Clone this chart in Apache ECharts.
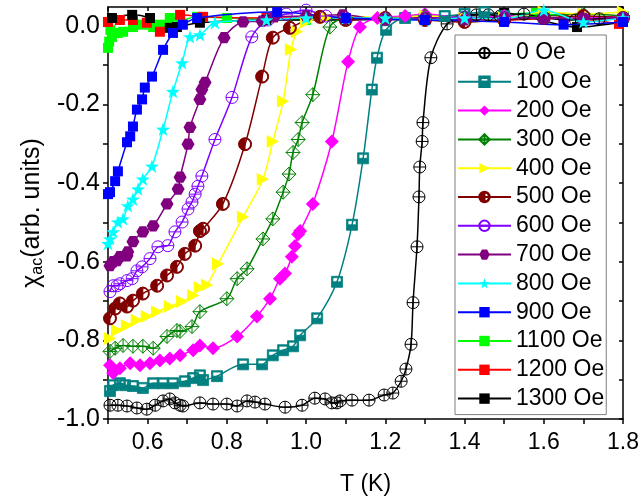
<!DOCTYPE html>
<html><head><meta charset="utf-8">
<script src="https://cdn.jsdelivr.net/npm/echarts@6/dist/echarts.min.js"></script>
<style>html,body{margin:0;padding:0;background:#fff}#c{width:642px;height:501px}</style>
</head><body><div id="c"></div>
<script>
const xTicks = { min: 0.5, max: 1.8, step: 0.1 };
const yTicks = { min: -1.0, max: 0.048, step: 0.1 };
const seriesNames = ['0 Oe','100 Oe','200 Oe','300 Oe','400 Oe','500 Oe','600 Oe','700 Oe','800 Oe','900 Oe','1100 Oe','1200 Oe','1300 Oe'];

const s0 = [[0.505,-0.965],[0.525,-0.965],[0.548,-0.967],[0.573,-0.972],[0.598,-0.975],[0.619,-0.965],[0.639,-0.954],[0.656,-0.949],[0.669,-0.959],[0.682,-0.965],[0.689,-0.967],[0.732,-0.959],[0.765,-0.962],[0.800,-0.962],[0.826,-0.967],[0.851,-0.954],[0.871,-0.957],[0.896,-0.962],[0.947,-0.970],[0.990,-0.965],[1.022,-0.947],[1.048,-0.949],[1.065,-0.959],[1.078,-0.959],[1.086,-0.954],[1.116,-0.952],[1.159,-0.952],[1.197,-0.939],[1.219,-0.934],[1.240,-0.904],[1.252,-0.873],[1.265,-0.810],[1.270,-0.704],[1.280,-0.562],[1.285,-0.435],[1.287,-0.359],[1.293,-0.294],[1.295,-0.246],[1.315,-0.081],[1.356,0.005],[1.40,0.020],[1.43,0.028],[1.46,0.028],[1.49,0.025],[1.55,0.030],[1.60,0.020],[1.68,0.015],[1.74,0.018],[1.80,0.020]];
const s100 = [[0.505,-0.929],[0.513,-0.914],[0.530,-0.909],[0.543,-0.914],[0.563,-0.916],[0.588,-0.921],[0.614,-0.909],[0.639,-0.909],[0.664,-0.909],[0.694,-0.904],[0.715,-0.896],[0.732,-0.889],[0.740,-0.901],[0.775,-0.891],[0.841,-0.861],[0.889,-0.861],[0.916,-0.838],[0.942,-0.825],[0.967,-0.815],[0.985,-0.787],[1.028,-0.744],[1.078,-0.651],[1.116,-0.506],[1.144,-0.337],[1.166,-0.162],[1.179,-0.081],[1.202,-0.010],[1.25,0.020],[1.30,0.018],[1.35,0.025],[1.40,0.030],[1.45,0.035],[1.50,0.025],[1.60,0.020],[1.70,0.020],[1.80,0.022]];
const s200 = [[0.505,-0.863],[0.513,-0.883],[0.530,-0.871],[0.556,-0.858],[0.581,-0.863],[0.606,-0.858],[0.631,-0.851],[0.656,-0.846],[0.682,-0.838],[0.715,-0.825],[0.732,-0.813],[0.765,-0.820],[0.826,-0.790],[0.876,-0.739],[0.909,-0.694],[0.934,-0.643],[0.947,-0.630],[0.964,-0.587],[0.972,-0.560],[0.980,-0.530],[0.985,-0.522],[1.017,-0.453],[1.065,-0.294],[1.106,-0.091],[1.136,-0.003],[1.18,0.020],[1.25,0.025],[1.30,0.030],[1.40,0.020],[1.50,0.025],[1.60,0.020],[1.70,0.020],[1.80,0.025]];
const s300 = [[0.505,-0.828],[0.518,-0.820],[0.538,-0.813],[0.563,-0.815],[0.588,-0.815],[0.614,-0.820],[0.649,-0.790],[0.674,-0.775],[0.682,-0.777],[0.712,-0.765],[0.732,-0.727],[0.800,-0.694],[0.826,-0.643],[0.851,-0.618],[0.891,-0.542],[0.916,-0.491],[0.942,-0.423],[0.957,-0.377],[0.967,-0.322],[0.980,-0.289],[0.990,-0.246],[1.017,-0.175],[1.060,-0.003],[1.10,0.020],[1.20,0.020],[1.30,0.025],[1.40,0.020],[1.50,0.020],[1.60,0.025],[1.70,0.030],[1.80,0.025]];
const s400 = [[0.505,-0.795],[0.523,-0.775],[0.548,-0.762],[0.573,-0.749],[0.598,-0.739],[0.624,-0.727],[0.656,-0.714],[0.687,-0.701],[0.715,-0.686],[0.732,-0.666],[0.750,-0.659],[0.778,-0.605],[0.841,-0.486],[0.891,-0.390],[0.916,-0.294],[0.942,-0.192],[0.962,-0.060],[0.977,-0.015],[1.00,0.010],[1.05,0.020],[1.10,0.025],[1.20,0.020],[1.30,0.025],[1.40,0.020],[1.50,0.020],[1.60,0.035],[1.70,0.030],[1.80,0.035]];
const s500 = [[0.505,-0.744],[0.518,-0.719],[0.530,-0.706],[0.548,-0.714],[0.563,-0.699],[0.588,-0.681],[0.624,-0.661],[0.649,-0.635],[0.674,-0.613],[0.694,-0.580],[0.720,-0.559],[0.732,-0.522],[0.740,-0.516],[0.790,-0.453],[0.846,-0.301],[0.889,-0.129],[0.916,-0.030],[0.959,-0.005],[1.035,0.023],[1.10,0.015],[1.20,0.020],[1.30,0.015],[1.40,0.010],[1.50,0.015],[1.60,0.020],[1.70,0.025],[1.80,0.020]];
const s600 = [[0.505,-0.676],[0.513,-0.661],[0.523,-0.661],[0.530,-0.656],[0.548,-0.648],[0.561,-0.643],[0.573,-0.623],[0.586,-0.613],[0.606,-0.592],[0.626,-0.562],[0.651,-0.559],[0.669,-0.524],[0.687,-0.499],[0.702,-0.466],[0.712,-0.448],[0.720,-0.428],[0.727,-0.408],[0.737,-0.382],[0.770,-0.289],[0.813,-0.182],[0.863,-0.028],[0.904,0.015],[0.95,0.030],[1.00,0.040],[1.05,0.025],[1.10,0.020],[1.20,0.018],[1.30,0.020],[1.40,0.022],[1.50,0.020],[1.60,0.020],[1.70,0.018],[1.80,0.020]];
const s700 = [[0.505,-0.610],[0.513,-0.600],[0.523,-0.597],[0.530,-0.587],[0.548,-0.585],[0.550,-0.575],[0.563,-0.549],[0.588,-0.524],[0.614,-0.509],[0.649,-0.453],[0.677,-0.415],[0.682,-0.385],[0.702,-0.301],[0.707,-0.258],[0.732,-0.187],[0.737,-0.162],[0.745,-0.144],[0.793,-0.030],[0.841,0.010],[0.889,0.012],[0.92,0.023],[1.00,0.025],[1.093,0.028],[1.20,0.015],[1.30,0.020],[1.40,0.015],[1.50,0.020],[1.60,0.020],[1.70,0.018],[1.80,0.020]];
const s800 = [[0.500,-0.554],[0.505,-0.542],[0.513,-0.524],[0.525,-0.499],[0.538,-0.491],[0.550,-0.458],[0.563,-0.441],[0.576,-0.415],[0.588,-0.390],[0.611,-0.357],[0.639,-0.263],[0.664,-0.167],[0.687,-0.094],[0.707,-0.028],[0.732,-0.023],[0.770,0.008],[0.90,0.015],[1.00,0.020],[1.10,0.020],[1.20,0.020],[1.30,0.015],[1.40,0.020],[1.50,0.018],[1.60,0.040],[1.70,0.010],[1.80,0.020]];
const s900 = [[0.500,-0.428],[0.505,-0.423],[0.518,-0.395],[0.525,-0.370],[0.548,-0.296],[0.556,-0.281],[0.563,-0.256],[0.573,-0.213],[0.586,-0.187],[0.593,-0.157],[0.611,-0.129],[0.639,-0.061],[0.664,-0.018],[0.689,0.003],[0.725,0.020],[0.927,0.035],[1.10,0.020],[1.30,0.015],[1.50,0.010],[1.65,0.003],[1.80,0.010]];
const s1100 = [[0.500,-0.056],[0.503,-0.040],[0.506,-0.010],[0.510,-0.028],[0.525,-0.018],[0.538,-0.015],[0.563,-0.003],[0.588,0.003],[0.614,-0.003],[0.631,0.003],[0.656,0.020],[0.682,0.015],[0.725,0.023],[0.80,0.020],[1.00,0.015],[1.20,0.020],[1.40,0.025],[1.58,0.033],[1.70,0.020],[1.80,0.020]];
const s1200 = [[0.500,0.010],[0.530,0.015],[0.563,0.015],[0.598,0.008],[0.631,-0.015],[0.682,0.028],[0.740,0.023],[0.90,0.020],[1.10,0.020],[1.30,0.020],[1.50,0.015],[1.65,0.020],[1.79,0.005]];
const s1300 = [[0.510,0.020],[0.561,0.028],[0.606,0.020],[0.656,-0.005],[0.674,-0.003],[0.732,0.008],[0.90,0.015],[1.10,0.015],[1.30,0.020],[1.50,0.033],[1.684,-0.003],[1.80,0.010]];

const seriesData = [s0,s100,s200,s300,s400,s500,s600,s700,s800,s900,s1100,s1200,s1300];
const colors = ['#000000','#008080','#ff00ff','#008000','#ffff00','#800000','#8000ff','#800080','#00ffff','#0000ff','#00ff00','#ff0000','#000000'];

const CIRC = 'M0,-10A10,10 0 0,1 10,0A10,10 0 0,1 0,10A10,10 0 0,1 -10,0A10,10 0 0,1 0,-10Z';
const P = {
  circlePlus: 'path://' + CIRC + 'M-10,0L10,0M0,-10L0,10',
  halfSquare: 'path://M0,0H10V10H0ZM1.3,1.3V5H8.7V1.3Z',
  diamondCross: 'path://M0,-10L10,0L0,10L-10,0ZM-10,0L10,0M0,-10L0,10',
  triRight: 'path://M-8,-9L9,0L-8,9Z',
  halfCircle: 'path://' + CIRC + 'M0,-8.5L0,8.5A8.5,8.5 0 0,0 8.5,0A8.5,8.5 0 0,0 0,-8.5Z',
  circleLine: 'path://' + CIRC + 'M-10,0L10,0',
  hexagon: 'path://M-5,-8.66L5,-8.66L10,0L5,8.66L-5,8.66L-10,0Z',
  star: 'path://M0,-10L2.35,-3.24L9.51,-3.09L3.8,1.24L5.88,8.09L0,4L-5.88,8.09L-3.8,1.24L-9.51,-3.09L-2.35,-3.24Z'
};
const symbols = [P.circlePlus,P.halfSquare,'diamond',P.diamondCross,P.triRight,P.halfCircle,P.circleLine,P.hexagon,P.star,'rect','rect','rect','rect'];
const sizes = [12,11,14,14,13,13,12,13,14,10,10,10,10];
const openMarker = [true,false,false,true,false,false,true,false,false,false,false,false,false];
const borderW = [1,0.8,0,1,0,1,1,0,0,0,0,0,0];
const zs = [3,3,3,3,3,3,3,3,3,3,2,2,2];

const FONT = 'Liberation Sans, Arial, sans-serif';
const isMajor = (v) => { const k = Math.round(v * 5); return Math.abs(v * 5 - k) < 1e-6; };
const fmt = (v) => isMajor(v) ? (Math.round(v * 5) / 5).toFixed(1) : '';

const series = seriesNames.map((n, i) => ({
  name: n, type: 'line', data: seriesData[i], smooth: 0.3,
  symbol: symbols[i], symbolSize: sizes[i], symbolKeepAspect: true,
  showAllSymbol: true, z: zs[i],
  lineStyle: { color: colors[i], width: 1.5 },
  itemStyle: { color: openMarker[i] ? 'rgba(255,255,255,0)' : colors[i], borderColor: colors[i], borderWidth: borderW[i] },
  emphasis: { disabled: true }
}));

const chart = echarts.init(document.getElementById('c'), null, { renderer: 'canvas' });
chart.setOption({
  animation: false,
  backgroundColor: '#fff',
  textStyle: { fontFamily: FONT },
  grid: { left: 108, right: 19, top: 7, bottom: 80, containLabel: false },
  legend: {
    orient: 'vertical', left: 455, top: 35,
    padding: [6, 2, 4, 2], itemGap: 4.8, itemWidth: 53, itemHeight: 13,
    backgroundColor: '#fff', borderColor: '#7f7f7f', borderWidth: 1,
    textStyle: { fontSize: 23, lineHeight: 24, color: '#000', fontFamily: FONT },
    data: seriesNames
  },
  xAxis: [{
    type: 'value', position: 'bottom', min: xTicks.min, max: xTicks.max, interval: xTicks.step,
    axisLine: { onZero: false, lineStyle: { color: '#000', width: 1.5 } },
    axisTick: { inside: false, length: 5, lineStyle: { color: '#000', width: 1.5 } },
    axisLabel: { formatter: fmt, fontSize: 23, color: '#000', margin: 12, fontFamily: FONT },
    splitLine: { show: false },
    name: 'T (K)', nameLocation: 'middle', nameGap: 54,
    nameTextStyle: { fontSize: 23, color: '#000', fontFamily: FONT }
  }, {
    type: 'value', position: 'top', min: xTicks.min, max: xTicks.max, interval: xTicks.step,
    axisLine: { onZero: false, lineStyle: { color: '#000', width: 1.5 } },
    axisTick: { inside: true, length: 4, lineStyle: { color: '#000', width: 1.5 } },
    axisLabel: { show: false }, splitLine: { show: false }
  }],
  yAxis: [{
    type: 'value', position: 'left', min: yTicks.min, max: yTicks.max, interval: yTicks.step,
    axisLine: { onZero: false, lineStyle: { color: '#000', width: 1.5 } },
    axisTick: { inside: false, length: 5, lineStyle: { color: '#000', width: 1.5 } },
    axisLabel: { formatter: fmt, fontSize: 25, color: '#000', margin: 8, fontFamily: FONT, showMaxLabel: false },
    splitLine: { show: false },
    name: '{a|χ}{s|ac}{a|(arb. units)}', nameLocation: 'middle', nameGap: 57, nameRotate: 90,
    nameTextStyle: { color: '#000', fontFamily: FONT,
      rich: { a: { fontSize: 25, color: '#000', fontFamily: FONT, lineHeight: 30 }, s: { fontSize: 16, color: '#000', fontFamily: FONT, lineHeight: 30, padding: [12, 0, 0, 0] } } }
  }, {
    type: 'value', position: 'right', min: yTicks.min, max: yTicks.max, interval: yTicks.step,
    axisLine: { onZero: false, lineStyle: { color: '#000', width: 1.5 } },
    axisTick: { inside: true, length: 4, lineStyle: { color: '#000', width: 1.5 } },
    axisLabel: { show: false }, splitLine: { show: false }
  }],
  series: series
});
</script></body></html>
